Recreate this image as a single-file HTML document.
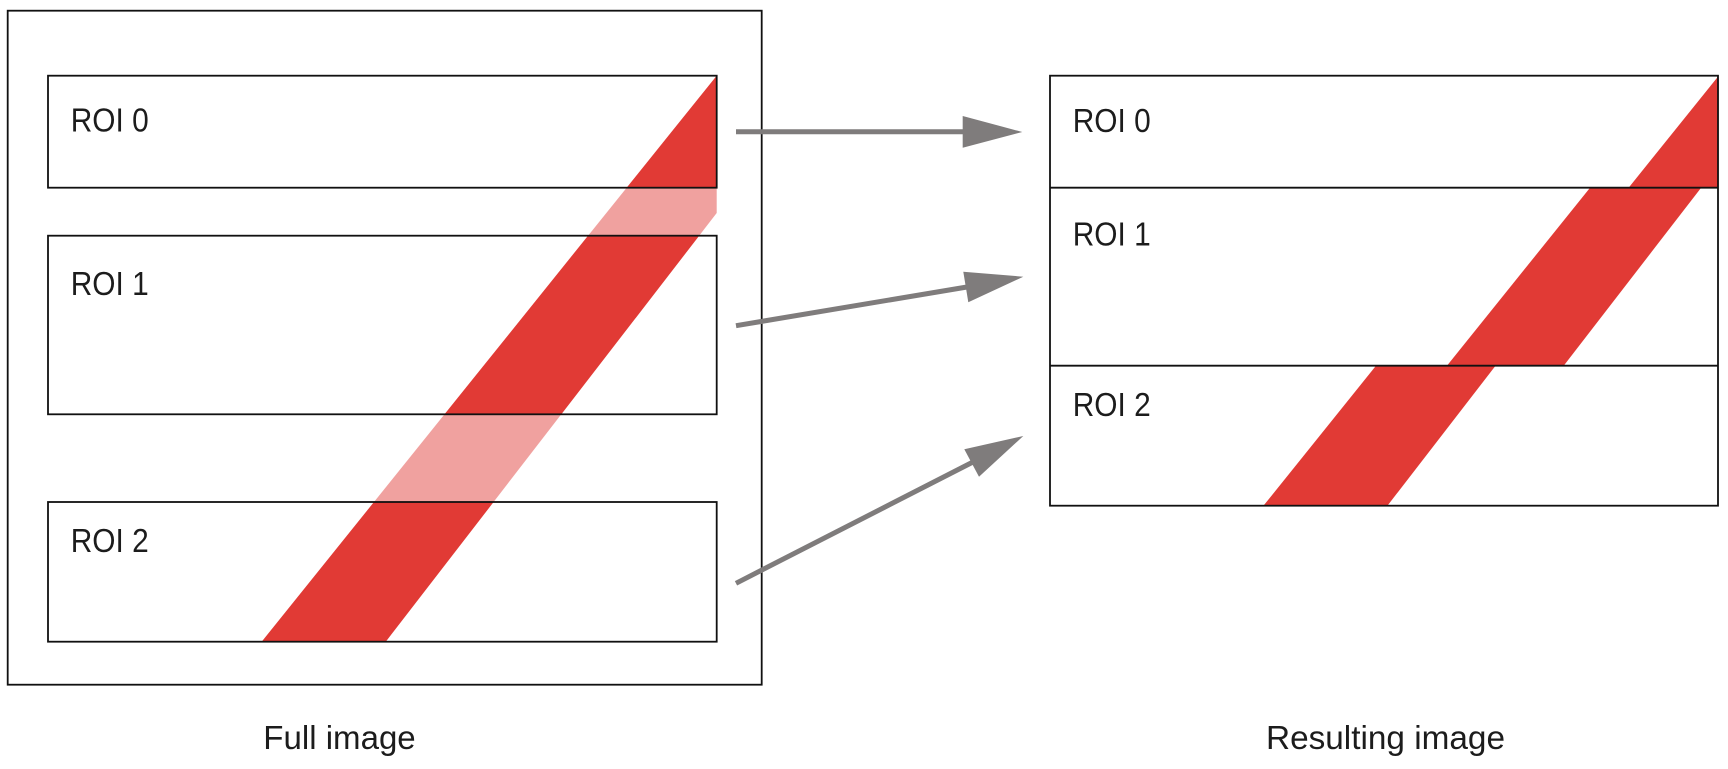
<!DOCTYPE html>
<html>
<head>
<meta charset="utf-8">
<style>
  html, body { margin: 0; padding: 0; background: #ffffff; }
  body { width: 1728px; height: 769px; overflow: hidden; }
  svg { display: block; }
  text { font-family: "Liberation Sans", sans-serif; fill: #1c1c1c; }
</style>
</head>
<body>
<svg width="1728" height="769" viewBox="0 0 1728 769" xmlns="http://www.w3.org/2000/svg">
  <defs>
    <clipPath id="c0" clipPathUnits="userSpaceOnUse"><rect x="48" y="75.7" width="668.7" height="112"/></clipPath>
    <clipPath id="c1" clipPathUnits="userSpaceOnUse"><rect x="48" y="235.7" width="668.7" height="178.6"/></clipPath>
    <clipPath id="c2" clipPathUnits="userSpaceOnUse"><rect x="48" y="502" width="668.7" height="139.7"/></clipPath>
  </defs>

  <!-- Full image outer frame -->
  <rect x="7.7" y="10.7" width="754" height="674" fill="none" stroke="#111" stroke-width="1.8"/>

  <!-- Light band (outside ROIs) -->
  <polygon points="716.7,75.7 716.7,213 385.7,641.7 261.7,641.7" fill="#f0a19f"/>
  <!-- Red band within ROIs -->
  <polygon points="716.7,75.7 716.7,213 385.7,641.7 261.7,641.7" fill="#e13a35" clip-path="url(#c0)"/>
  <polygon points="716.7,75.7 716.7,213 385.7,641.7 261.7,641.7" fill="#e13a35" clip-path="url(#c1)"/>
  <polygon points="716.7,75.7 716.7,213 385.7,641.7 261.7,641.7" fill="#e13a35" clip-path="url(#c2)"/>

  <!-- ROI boxes left -->
  <rect x="48" y="75.7" width="668.7" height="112" fill="none" stroke="#111" stroke-width="1.8"/>
  <rect x="48" y="235.7" width="668.7" height="178.6" fill="none" stroke="#111" stroke-width="1.8"/>
  <rect x="48" y="502" width="668.7" height="139.7" fill="none" stroke="#111" stroke-width="1.8"/>

  <text x="70.7" y="131.7" font-size="33" textLength="78" lengthAdjust="spacingAndGlyphs">ROI 0</text>
  <text x="70.7" y="295" font-size="33" textLength="78" lengthAdjust="spacingAndGlyphs">ROI 1</text>
  <text x="70.7" y="552" font-size="33" textLength="78" lengthAdjust="spacingAndGlyphs">ROI 2</text>

  <!-- Result image bands -->
  <g transform="translate(1002,0)">
    <polygon points="716.7,75.7 716.7,213 385.7,641.7 261.7,641.7" fill="#e13a35" clip-path="url(#c0)"/>
  </g>
  <g transform="translate(1002,-48)">
    <polygon points="716.7,75.7 716.7,213 385.7,641.7 261.7,641.7" fill="#e13a35" clip-path="url(#c1)"/>
  </g>
  <g transform="translate(1002,-136.3)">
    <polygon points="716.7,75.7 716.7,213 385.7,641.7 261.7,641.7" fill="#e13a35" clip-path="url(#c2)"/>
  </g>

  <!-- Result boxes -->
  <rect x="1050" y="75.7" width="668" height="430" fill="none" stroke="#111" stroke-width="1.8"/>
  <line x1="1050" y1="187.7" x2="1718" y2="187.7" stroke="#111" stroke-width="1.8"/>
  <line x1="1050" y1="365.7" x2="1718" y2="365.7" stroke="#111" stroke-width="1.8"/>

  <text x="1072.7" y="132" font-size="33" textLength="78" lengthAdjust="spacingAndGlyphs">ROI 0</text>
  <text x="1072.7" y="245.7" font-size="33" textLength="78" lengthAdjust="spacingAndGlyphs">ROI 1</text>
  <text x="1072.7" y="416" font-size="33" textLength="78" lengthAdjust="spacingAndGlyphs">ROI 2</text>

  <!-- Arrows -->
  <g fill="#7f7c7c" stroke="none">
    <line x1="736" y1="131.7" x2="964" y2="131.7" stroke="#7f7c7c" stroke-width="5"/>
    <polygon points="962.7,116 1022.3,132 962.7,147.7"/>
    <line x1="736" y1="325.7" x2="967" y2="287" stroke="#7f7c7c" stroke-width="5"/>
    <polygon points="963.3,271.7 1023.3,276.7 968.3,302.3"/>
    <line x1="736" y1="583.3" x2="972" y2="462.5" stroke="#7f7c7c" stroke-width="5"/>
    <polygon points="964.3,449.3 1023.3,436 979,476.7"/>
  </g>

  <!-- Captions -->
  <text x="263.3" y="749" font-size="33" textLength="152.4" lengthAdjust="spacingAndGlyphs">Full image</text>
  <text x="1266" y="749" font-size="33" textLength="239" lengthAdjust="spacingAndGlyphs">Resulting image</text>
</svg>
</body>
</html>
